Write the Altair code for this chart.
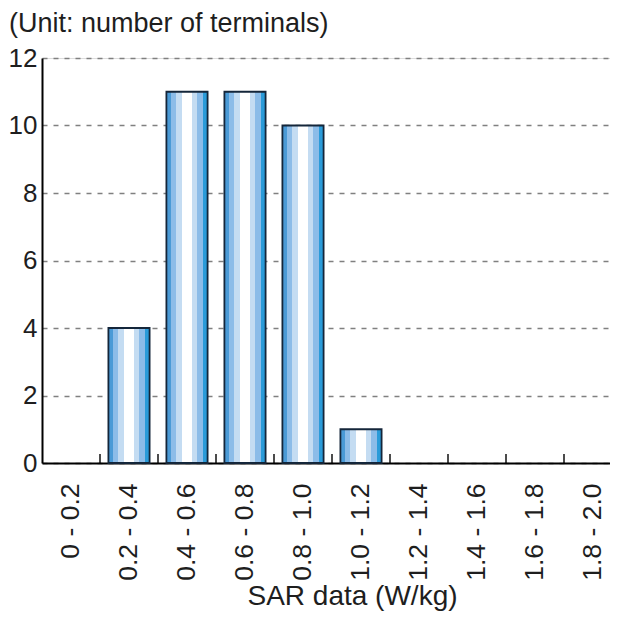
import altair as alt
import pandas as pd

categories = ["0 - 0.2", "0.2 - 0.4", "0.4 - 0.6", "0.6 - 0.8", "0.8 - 1.0",
              "1.0 - 1.2", "1.2 - 1.4", "1.4 - 1.6", "1.6 - 1.8", "1.8 - 2.0"]
counts = [0, 4, 11, 11, 10, 1, 0, 0, 0, 0]
y_ticks = [0, 2, 4, 6, 8, 10, 12]

df = pd.DataFrame({"cat": categories, "count": counts})
tick_df = pd.DataFrame({"cat": categories[1:]})

FONT = "Liberation Sans"
TXT = "#1e1e1e"

c1, c2, c3, c4 = "#4a9ad6", "#8cbce8", "#c4dcf2", "#2a9bd9"
stops = [
    (0.0, c1), (0.115, c1), (0.115, c2), (0.238, c2), (0.238, c3), (0.385, c3),
    (0.385, "#ffffff"), (0.63, "#ffffff"), (0.63, c3), (0.754, c3),
    (0.754, c2), (0.877, c2), (0.877, c4), (1.0, c4),
]
grad = alt.Gradient(
    gradient="linear", x1=0, y1=0, x2=1, y2=0,
    stops=[alt.GradientStop(offset=o, color=c) for o, c in stops],
)

xscale = alt.Scale(domain=categories, paddingInner=0, paddingOuter=0, range=[0, 580])
yscale = alt.Scale(domain=[0, 12], nice=False)

bars = alt.Chart(df).transform_filter("datum.count > 0").mark_bar(
    fill=grad, stroke="#14263a", strokeWidth=1.8, width={"band": 0.71}
).encode(
    x=alt.X("cat:N", scale=xscale, sort=categories,
            axis=alt.Axis(title="SAR data (W/kg)", labelAngle=270, ticks=False,
                          labelPadding=20, labelFontSize=26.5, labelFont=FONT,
                          labelColor=TXT, titleFont=FONT, titleFontSize=28,
                          titleFontWeight="normal", titleColor=TXT,
                          titleX=310, titleY=141, titleAlign="center",
                          titleBaseline="alphabetic",
                          domainColor="#000000", domainWidth=2, grid=False)),
    y=alt.Y("count:Q", scale=yscale,
            axis=alt.Axis(title=None, values=y_ticks, ticks=False, labelPadding=5,
                          labelFontSize=26, labelFont=FONT, labelColor=TXT,
                          domainColor="#000000", domainWidth=2, grid=True,
                          gridColor="#808080", gridDash=[5, 6], gridWidth=1.6)),
)

ticks = alt.Chart(tick_df).mark_tick(
    orient="vertical", size=9, thickness=2, color="#000000", yOffset=-4.5
).encode(
    x=alt.X("cat:N", scale=xscale, sort=categories, bandPosition=0),
    y=alt.datum(0),
)

chart = alt.layer(bars, ticks).properties(
    width=568, height=405,
    autosize=alt.AutoSizeParams(type="none"),
    padding={"left": 34, "top": 50, "right": 0, "bottom": 150},
    title=alt.TitleParams("(Unit: number of terminals)", anchor="start", frame="group",
                          dx=-33, fontSize=27, font=FONT, fontWeight="normal",
                          color=TXT, offset=7),
).configure_view(stroke=None).configure(background="white")

chart.save("out.html", embed_options={"renderer": "svg", "actions": False})
